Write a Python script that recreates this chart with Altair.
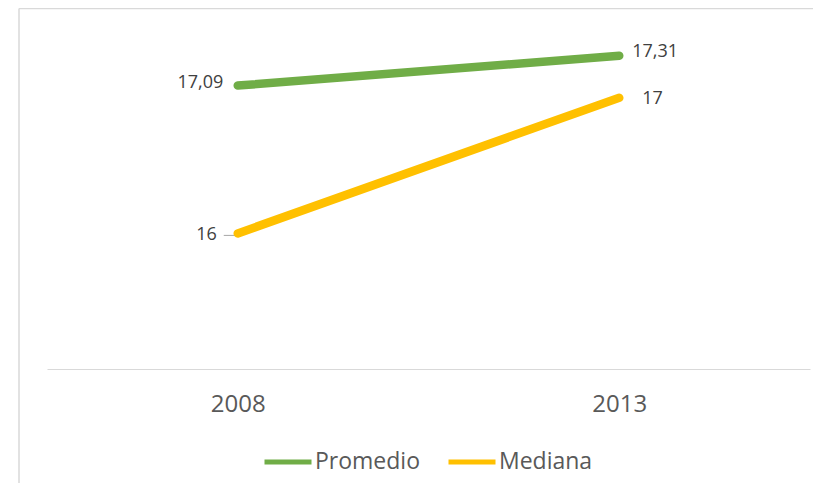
import altair as alt
import pandas as pd

years = ["2008", "2013"]
series = ["Promedio", "Mediana"]
promedio = [17.09, 17.31]
mediana = [16, 17]
colors = ["#70AD47", "#FFC000"]

def fmt(v):
    return ("%g" % v).replace(".", ",")

rows = []
for name, vals in zip(series, [promedio, mediana]):
    for y, v in zip(years, vals):
        rows.append({"serie": name, "year": y, "value": v, "label": fmt(v)})
df = pd.DataFrame(rows)

FONT = "Open Sans"

x_enc = alt.X("year:N", scale=alt.Scale(type="point", padding=0.5),
              axis=alt.Axis(title=None, labelAngle=0, ticks=False, grid=False,
                            domainColor="#d9d9d9", domainWidth=1,
                            labelFontSize=24, labelFont=FONT, labelColor="#595959",
                            labelPadding=23))
y_enc = alt.Y("value:Q", scale=alt.Scale(domain=[15, 17.5], zero=False, nice=False), axis=None)

base = alt.Chart(df)
one = alt.Chart(pd.DataFrame({"a": [0]}))

frame_left = one.mark_rule(color="#d9d9d9", strokeWidth=1.5).encode(
    x=alt.value(-28), y=alt.value(-21.5), y2=alt.value(500))
frame_top = one.mark_rule(color="#d9d9d9", strokeWidth=1.5).encode(
    x=alt.value(-28), x2=alt.value(766), y=alt.value(-21.5))

leader = base.transform_filter(
    (alt.datum.serie == "Mediana") & (alt.datum.year == "2008")
).mark_rule(color="#a6a6a6", strokeWidth=1, xOffset=-14, x2Offset=-1, yOffset=2, y2Offset=2).encode(
    x=x_enc, x2=alt.X2("year"), y=y_enc
)

lines = base.mark_line(strokeWidth=8.5, strokeCap="round").encode(
    x=x_enc, y=y_enc,
    color=alt.Color("serie:N", scale=alt.Scale(domain=series, range=colors),
                    legend=alt.Legend(title=None, orient="none", legendX=215, legendY=406,
                                      direction="horizontal", symbolType="stroke",
                                      symbolSize=2209, symbolStrokeWidth=5,
                                      labelFontSize=23, labelFont=FONT, labelColor="#595959",
                                      labelOffset=1, columnPadding=18)),
    detail="serie:N",
)

def label_layer(serie, year, align, dx, dy):
    return base.transform_filter(
        (alt.datum.serie == serie) & (alt.datum.year == year)
    ).mark_text(align=align, baseline="middle", dx=dx, dy=dy, fontSize=18,
                font=FONT, color="#404040").encode(x=x_enc, y=y_enc, text="label:N")

chart = alt.layer(
    frame_left,
    frame_top,
    leader,
    lines,
    label_layer("Promedio", "2008", "right", -14.5, -3),
    label_layer("Mediana", "2008", "right", -21, 2),
    label_layer("Promedio", "2013", "left", 13, -4),
    label_layer("Mediana", "2013", "left", 23, 1),
).properties(
    width=763, height=339,
    autosize=alt.AutoSizeParams(type="none"),
    padding={"left": 39, "top": 22, "right": 3, "bottom": 114},
).configure_view(stroke="transparent")

chart.save("out.html", embed_options={"renderer": "svg", "actions": False})
